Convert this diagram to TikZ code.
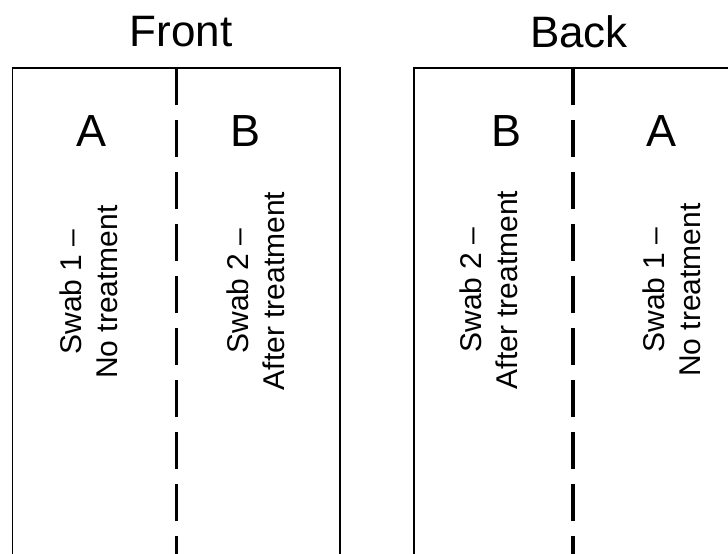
\documentclass[tikz,border=0pt]{standalone}
\usepackage{fontspec}
\setmainfont{Liberation Sans}
\begin{document}
\begin{tikzpicture}[x=1pt,y=-1pt,
  panel/.style={draw=black,line width=1.7pt},
  divider/.style={draw=black,line width=3.2pt,dash pattern=on 37pt off 15pt},
  heading/.style={font=\fontsize{44}{52}\selectfont,inner sep=0pt,anchor=base},
  side/.style={font=\fontsize{45}{52}\selectfont,inner sep=0pt,anchor=base},
  swab/.style={font=\fontsize{30}{36}\selectfont,inner sep=0pt,rotate=90,align=center}]
  \useasboundingbox (0,0) rectangle (728,554);
  \clip (0,0) rectangle (728,554);
  % the two panels, both running past the lower edge
  \draw[panel] (12.5,68) rectangle (340,620);
  \draw[panel] (414,68) rectangle (800,620);
  % centre dividers
  \coordinate (fTop) at (176.5,68);
  \coordinate (fBot) at (176.5,620);
  \coordinate (bTop) at (573,68);
  \coordinate (bBot) at (573,620);
  \draw[divider] (fTop) -- (fBot);
  \draw[divider] (bTop) -- (bBot);
  % headings
  \node[heading] (front) at (181,46) {Front};
  \node[heading] (back) at (579,47) {Back};
  % side letters
  \node[side] (fA) at (92,146) {A};
  \node[side] (fB) at (246,146) {B};
  \node[side] (bB) at (507,146) {B};
  \node[side] (bA) at (661,146) {A};
  % swab labels
  \node[swab] (fS1) at (89,292) {Swab 1 --\\No treatment};
  \node[swab] (fS2) at (256,291) {Swab 2 --\\After treatment};
  \node[swab] (bS2) at (489,290) {Swab 2 --\\After treatment};
  \node[swab] (bS1) at (672,290) {Swab 1 --\\No treatment};
\end{tikzpicture}
\end{document}
